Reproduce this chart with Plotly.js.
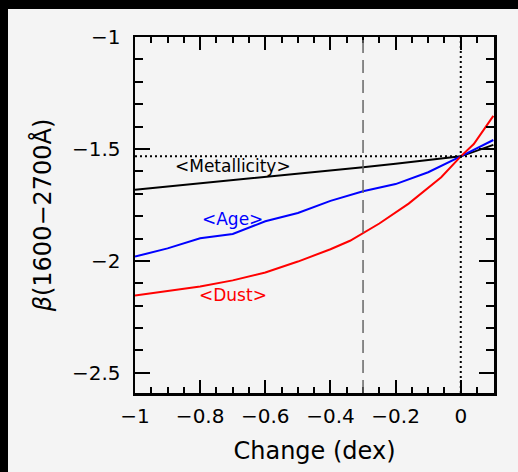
<!DOCTYPE html>
<html>
<head>
<meta charset="utf-8">
<script src="https://cdn.plot.ly/plotly-3.0.1.min.js"></script>
<style>
  html, body { margin: 0; padding: 0; background: #000; width: 518px; height: 472px; overflow: hidden; }
  #plot { position: absolute; left: 8px; top: 9px; width: 510px; height: 463px; }
</style>
</head>
<body>
<div id="plot"></div>
<script>
// ---- data ----
const metalX = [-1, -0.9, -0.8, -0.7, -0.6, -0.5, -0.4, -0.3, -0.2, -0.1, 0, 0.1];
const metalY = [-1.682, -1.668, -1.654, -1.640, -1.626, -1.612, -1.599, -1.582, -1.566, -1.550, -1.533, -1.482];

const ageX = [-1, -0.9, -0.8, -0.7, -0.6, -0.5, -0.4, -0.3, -0.2, -0.1, 0, 0.1];
const ageY = [-1.981, -1.944, -1.899, -1.880, -1.823, -1.786, -1.732, -1.689, -1.657, -1.604, -1.533, -1.460];

const dustX = [-1, -0.9, -0.8, -0.7, -0.6, -0.5, -0.4, -0.34, -0.25, -0.16, -0.06, 0, 0.04, 0.1];
const dustY = [-2.155, -2.136, -2.114, -2.087, -2.052, -2.003, -1.948, -1.910, -1.833, -1.744, -1.626, -1.533, -1.478, -1.352];

const refVDashed = -0.3;     // dashed vertical reference
const refVDotted = 0;        // dotted vertical reference
const refHDotted = -1.533;   // dotted horizontal reference

const labels = ['<Metallicity>', '<Age>', '<Dust>'];
const labelX = [-0.70, -0.70, -0.70];
const labelY = [-1.574, -1.811, -2.151];
const colors = ['#000000', '#0000ff', '#ff0000'];

const xTickVals = [-1, -0.8, -0.6, -0.4, -0.2, 0];
const yTickVals = [-2.5, -2, -1.5, -1];

// ---- build ----
const traces = [
  { x: metalX, y: metalY, mode: 'lines', line: { color: colors[0], width: 2 }, hoverinfo: 'skip' },
  { x: ageX, y: ageY, mode: 'lines', line: { color: colors[1], width: 2 }, hoverinfo: 'skip' },
  { x: dustX, y: dustY, mode: 'lines', line: { color: colors[2], width: 2 }, hoverinfo: 'skip' }
];

const font = 'DejaVu Sans, sans-serif';
const fmt = v => (v < 0 ? '\u2212' : '') + String(Math.abs(v));

const layout = {
  width: 510, height: 463,
  paper_bgcolor: '#f4f4f4', plot_bgcolor: '#f4f4f4',
  margin: { l: 127, r: 24, t: 28, b: 79 },
  showlegend: false,
  font: { family: font, color: '#000', size: 20 },
  xaxis: {
    range: [-1, 0.102], showgrid: false, zeroline: false,
    showline: true, linecolor: '#000', linewidth: 2.5, mirror: 'allticks',
    ticks: 'inside', ticklen: 13, tickwidth: 2, tickcolor: '#000',
    tickvals: xTickVals, ticktext: xTickVals.map(fmt),
    ticklabelstandoff: 3,
    tickfont: { family: font, size: 20, color: '#000' },
    minor: { dtick: 0.05, tick0: 0, ticks: 'inside', ticklen: 6, tickwidth: 2, tickcolor: '#000', showgrid: false },
    title: { text: 'Change (dex)', font: { family: font, size: 24, color: '#000' }, standoff: 16 }
  },
  yaxis: {
    range: [-2.59, -1], showgrid: false, zeroline: false,
    showline: true, linecolor: '#000', linewidth: 2.5, mirror: 'allticks',
    ticks: 'inside', ticklen: 15, tickwidth: 2, tickcolor: '#000',
    tickvals: yTickVals, ticktext: yTickVals.map(fmt),
    ticklabelstandoff: 8,
    tickfont: { family: font, size: 20, color: '#000' },
    minor: { dtick: 0.1, tick0: 0, ticks: 'inside', ticklen: 8, tickwidth: 2, tickcolor: '#000', showgrid: false },
    title: { text: '<i>\u03b2</i>(1600\u22122700\u00c5)', font: { family: font, size: 24, color: '#000' }, standoff: 14 }
  },
  shapes: [
    { type: 'line', xref: 'x', yref: 'paper', x0: refVDashed, x1: refVDashed, y0: 0, y1: 1,
      line: { color: '#666666', width: 1.5, dash: '13px,7px' } },
    { type: 'line', xref: 'x', yref: 'paper', x0: refVDotted, x1: refVDotted, y0: 0, y1: 1,
      line: { color: '#000', width: 2, dash: '2px,3px' } },
    { type: 'line', xref: 'paper', yref: 'y', x0: 0, x1: 1, y0: refHDotted, y1: refHDotted,
      line: { color: '#000', width: 2, dash: '2px,3px' } }
  ],
  annotations: labels.map((t, i) => ({
    x: labelX[i], y: labelY[i], xref: 'x', yref: 'y', text: t.replace(/</g, '&lt;').replace(/>/g, '&gt;'),
    showarrow: false, xanchor: 'center', yanchor: 'middle',
    font: { family: font, size: 17, color: colors[i] }
  }))
};

Plotly.newPlot('plot', traces, layout, { staticPlot: true, displayModeBar: false });
</script>
</body>
</html>
